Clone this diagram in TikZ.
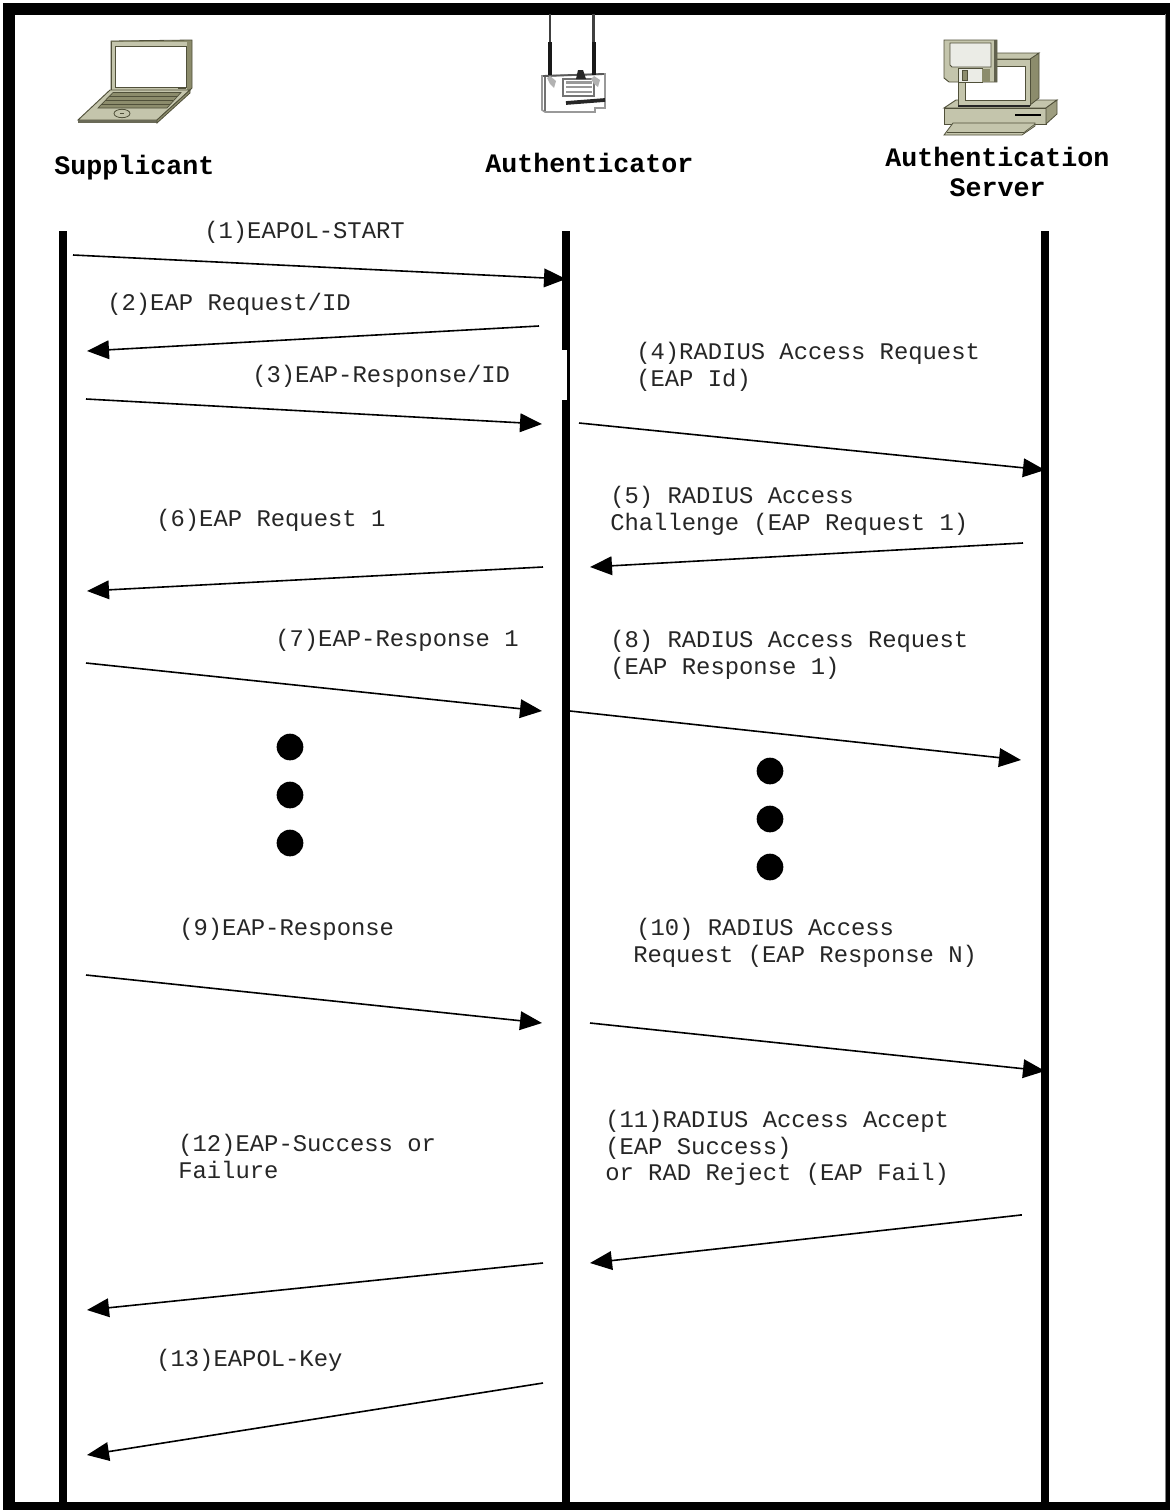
\documentclass[tikz,border=0pt]{standalone}
\usepackage{fontspec}
\setmainfont{Liberation Mono}
\usetikzlibrary{arrows.meta}
\definecolor{olv}{HTML}{C4C5AC}
\definecolor{olvd}{HTML}{8C8C6C}
\definecolor{olvk}{HTML}{50503A}
\definecolor{paper}{HTML}{EBECE6}
\tikzset{
 x=0.75pt,y=-0.75pt,
 life/.style={line width=6pt,line cap=butt},
 msg/.style={line width=1.2pt,-{Triangle[length=16.5pt,width=14pt]}},
 lbl/.style={anchor=base west,inner sep=0pt,font=\fontsize{17.9}{20}\selectfont,align=left,text=black!85},
 head/.style={inner sep=0pt,align=center,font=\fontsize{20}{22.5}\selectfont\bfseries},
 dot/.style={circle,fill=black,minimum size=20pt,inner sep=0pt},
 ic/.style={draw=olvk,line width=.7pt,line join=round}
}
\begin{document}
\begin{tikzpicture}
\useasboundingbox (0,0) rectangle (1170,1510);
\fill[white] (0,0) rectangle (1170,1510);
% frame
\fill[black] (3,3) rectangle (1170,14.5);
\fill[black] (3,3) rectangle (15,1510);
\fill[black] (3,1502) rectangle (1170,1510);
\fill[black] (1166,3) rectangle (1170,1510);
\fill[black!50] (1165,14) rectangle (1166,1502);
% lifelines
\coordinate (s0) at (62.5,231); \coordinate (s1) at (62.5,1510);
\coordinate (a0) at (566,231); \coordinate (a1) at (566,350);
\coordinate (a2) at (566,400); \coordinate (a3) at (566,1510);
\coordinate (g0) at (568.5,350); \coordinate (g1) at (568.5,400);
\coordinate (r0) at (1045,231); \coordinate (r1) at (1045,1510);
\draw[life] (s0) -- (s1);
\draw[life] (a0) -- (a1);
\draw[life] (a2) -- (a3);
\draw[line width=2pt] (g0) -- (g1);
\draw[life] (r0) -- (r1);
% laptop
\fill[olvd,draw=olvk,line width=.6pt] (111,41) -- (192,40) -- (192,88) -- (186,94) -- (111,90) -- cycle;
\fill[olv] (112,42) -- (187,42) -- (187,90) -- (112,90) -- cycle;
\draw[ic] (111,42) -- (111,90);
\fill[white,draw=olvk,line width=.6pt] (115,46) rectangle (186,87);
\fill[olvk] (178,87.5) rectangle (186,89);
\fill[olv,draw=olvk,line width=.7pt] (110,90) -- (190,90) -- (157,120) -- (78,120) -- cycle;
\fill[olvk!85] (78,120) rectangle (157,123);
\fill[olvd,draw=olvk,line width=.6pt] (157,123) -- (157,120) -- (190,90) -- (190,93) -- cycle;
\fill[olvd,draw=olvk,line width=.5pt] (113,92.5) -- (181,92.5) -- (167,108) -- (98,108) -- cycle;
\draw[olvk,line width=.6pt] (109,96.5) -- (177,96.5) (105,100.5) -- (173,100.5) (101,104.5) -- (170,104.5);
\draw[olvk,line width=.6pt] (122,113.5) ellipse (8 and 4.2);
\draw[olvk,line width=.6pt] (120,113.5) -- (124,113.5);
% access point
\fill[white,draw=black!40,line width=1.2pt] (542,76) -- (605,74) -- (605,108) -- (595,108) -- (595,112) -- (545,112) -- (542,110) -- cycle;
\draw[black!55,line width=1.8pt] (545,76) -- (545,111);
\draw[black!65,line width=1.4pt] (543,76) -- (604,74);
\fill[white,draw=black!55,line width=1.4pt] (563,79) rectangle (594,96);
\fill[black!85] (578,70) -- (583,70) -- (586,79) -- (576,79) -- cycle;
\fill[black!40] (566,81) rectangle (592,84);
\draw[black!40,line width=1.2pt] (566,87) -- (592,87) (566,92) -- (592,92);
\draw[black!85,line width=2.8pt] (566,103) -- (605,100);
\fill[black!30] (550,76) -- (556,81) -- (554,88) -- (550,84) -- (547,78) -- cycle;
\fill[black!30] (594,76) -- (600,80) -- (598,87) -- (594,84) -- (591,79) -- cycle;
\draw[black!75,line width=1.6pt] (550,14) -- (550,42);
\draw[black!75,line width=1.6pt] (593.5,14) -- (593.5,42);
\draw[black!90,line width=3pt] (550,42) -- (550,75);
\draw[black!90,line width=3pt] (593.5,42) -- (593.5,75);
% server: base
\fill[olv,draw=olvk,line width=.7pt] (956,100) -- (1057,100) -- (1046,108) -- (944,108) -- cycle;
\fill[olv,draw=olvk,line width=.7pt] (944,108) rectangle (1046,124);
\fill[olvd!70!olv,draw=olvk,line width=.6pt] (1046,108) -- (1057,100) -- (1057,114) -- (1046,124) -- cycle;
\draw[black,line width=1pt] (1015,115) -- (1041,115);
\fill[olv,draw=olvk,line width=.6pt] (953,123) -- (1035,123) -- (1035,126) -- (1022,135) -- (944,135) -- cycle;
\draw[olvk,line width=.5pt] (947,132.5) -- (1024,132.5) -- (1035,124);
% server: monitor
\fill[olvd,draw=olvk,line width=.6pt] (1030,59) -- (1039,53) -- (1039,98) -- (1030,105) -- cycle;
\fill[olv,draw=olvk,line width=.6pt] (995,53) -- (1039,53) -- (1030,59) -- (995,59) -- cycle;
\fill[olv,draw=olvk,line width=.7pt] (958,59) rectangle (1030,105);
\fill[white,draw=olvk,line width=.6pt] (965,66) rectangle (1025,100);
\fill[black!85] (958,104.5) rectangle (1030,106.5);
% server: floppy
\fill[olv,draw=olvk,line width=.7pt] (944,40) -- (997,40) -- (997,82) -- (949,82) -- (944,78) -- cycle;
\fill[olvk!90] (994,40) rectangle (997,82);
\fill[paper,draw=olvk,line width=.6pt] (950,43) -- (991,43) -- (991,67) -- (952,67) -- (950,65) -- cycle;
\fill[paper,draw=olvk,line width=.6pt] (958,68) rectangle (982,82);
\fill[olvd,draw=olvk,line width=.5pt] (962,70) rectangle (967,80);
\fill[olvd] (982,68.5) rectangle (990,82);
% headings
\node[head,anchor=base] (hs) at (134.5,174) {Supplicant};
\node[head,anchor=base] (ha) at (589.5,172) {Authenticator};
\node[head] (hr) at (997.5,172) {Authentication\\Server};
% free arrow ends
\coordinate (m1a) at (73,255); \coordinate (m1b) at (566,279);
\coordinate (m2a) at (539,326); \coordinate (m2b) at (87,351);
\coordinate (m3a) at (86,399); \coordinate (m3b) at (542,424);
\coordinate (m4a) at (579,423); \coordinate (m4b) at (1045,470);
\coordinate (m5a) at (1023,543); \coordinate (m5b) at (590,567);
\coordinate (m6a) at (543,567); \coordinate (m6b) at (87,591);
\coordinate (m7a) at (86,663); \coordinate (m7b) at (542,711);
\coordinate (m8a) at (570,711); \coordinate (m8b) at (1021,760);
\coordinate (m9a) at (86,975); \coordinate (m9b) at (542,1023);
\coordinate (m10a) at (590,1023); \coordinate (m10b) at (1045,1071);
\coordinate (m11a) at (1021,1215); \coordinate (m11b) at (590,1263);
\coordinate (m12a) at (543,1263); \coordinate (m12b) at (87,1310);
\coordinate (m13a) at (543,1383); \coordinate (m13b) at (87,1455);
\foreach \i in {1,...,13} \draw[msg] (m\i a) -- (m\i b);
\fill[black] (1020,1214) rectangle (1022,1216);
% labels
\node[lbl] (l1) at (204,238) {(1)EAPOL-START};
\node[lbl] (l2) at (107,310) {(2)EAP Request/ID};
\node[lbl] (l3) at (252,382) {(3)EAP-Response/ID};
\node[lbl,anchor=north west] (l4) at (636,342) {(4)RADIUS Access Request\\(EAP Id)};
\node[lbl,anchor=north west] (l5) at (610,486) {(5) RADIUS Access\\Challenge (EAP Request 1)};
\node[lbl] (l6) at (156,526) {(6)EAP Request 1};
\node[lbl] (l7) at (275,646) {(7)EAP-Response 1};
\node[lbl,anchor=north west] (l8) at (610,630) {(8) RADIUS Access Request\\(EAP Response 1)};
\node[lbl] (l9) at (179,935) {(9)EAP-Response};
\node[lbl,anchor=north west] (l10a) at (636,918) {(10) RADIUS Access};
\node[lbl,anchor=north west] (l10b) at (633,945) {Request (EAP Response N)};
\node[lbl,anchor=north west] (l11) at (605,1110) {(11)RADIUS Access Accept\\(EAP Success)\\or RAD Reject (EAP Fail)};
\node[lbl,anchor=north west] (l12) at (178,1134) {(12)EAP-Success or\\Failure};
\node[lbl] (l13) at (156,1366) {(13)EAPOL-Key};
% dots
\node[dot] (d1) at (290,747) {};
\node[dot] (d2) at (290,795) {};
\node[dot] (d3) at (290,843) {};
\node[dot] (d4) at (770,771) {};
\node[dot] (d5) at (770,819) {};
\node[dot] (d6) at (770,867) {};
\end{tikzpicture}
\end{document}
